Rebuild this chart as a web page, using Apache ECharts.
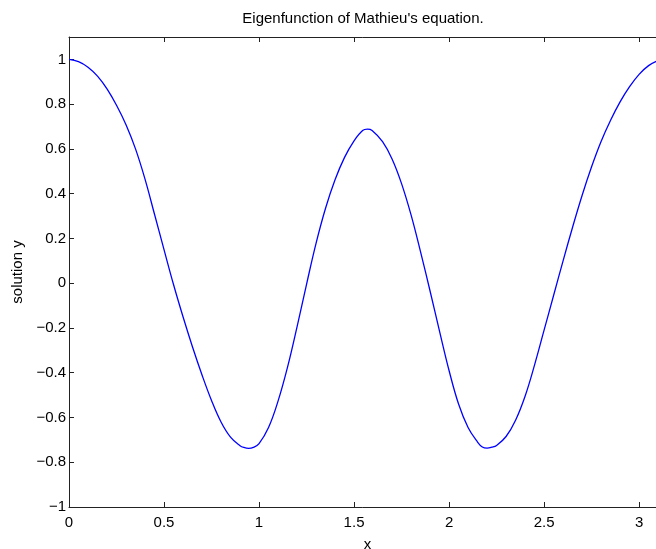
<!DOCTYPE html>
<html>
<head>
<meta charset="utf-8">
<script src="https://cdn.jsdelivr.net/npm/echarts@6/dist/echarts.min.js"></script>
<style>
  html, body { margin: 0; padding: 0; background: #ffffff; }
  #chart { width: 656px; height: 549px; }
</style>
</head>
<body>
<div id="chart"></div>
<script>
// ---- data ----
const titleText = "Eigenfunction of Mathieu's equation.";
const xName = "x";
const yName = "solution y";

const xValues = [
  0.00, 0.05, 0.10, 0.15, 0.20, 0.25, 0.30, 0.35, 0.40, 0.45,
  0.50, 0.55, 0.60, 0.65, 0.70, 0.75, 0.80, 0.85, 0.90, 0.92,
  0.945, 0.97, 1.00, 1.05, 1.10, 1.15, 1.20, 1.25, 1.30, 1.35,
  1.40, 1.45, 1.50, 1.545, 1.5708, 1.595, 1.65, 1.70, 1.75, 1.80,
  1.85, 1.90, 1.95, 2.00, 2.05, 2.10, 2.15, 2.175, 2.20, 2.225,
  2.25, 2.30, 2.35, 2.40, 2.45, 2.50, 2.55, 2.60, 2.65, 2.70,
  2.75, 2.80, 2.85, 2.90, 2.95, 3.00, 3.05, 3.10, 3.1416
];
const yValues = [
  1.000, 0.990, 0.965, 0.925, 0.868, 0.795, 0.708, 0.600, 0.465, 0.308,
  0.150, -0.006, -0.150, -0.285, -0.410, -0.524, -0.620, -0.688, -0.726, -0.734,
  -0.738, -0.734, -0.717, -0.645, -0.527, -0.375, -0.195, -0.005, 0.178, 0.335,
  0.462, 0.562, 0.636, 0.682, 0.688, 0.682, 0.632, 0.555, 0.445, 0.305,
  0.140, -0.035, -0.215, -0.390, -0.540, -0.645, -0.710, -0.732, -0.737, -0.733,
  -0.725, -0.685, -0.612, -0.505, -0.365, -0.210, -0.055, 0.100, 0.250, 0.392,
  0.520, 0.633, 0.728, 0.810, 0.878, 0.933, 0.972, 0.994, 1.000
];

const xTicks = [0, 0.5, 1, 1.5, 2, 2.5, 3];
const xTickLabels = ["0", "0.5", "1", "1.5", "2", "2.5", "3"];
const yTicks = [-1, -0.8, -0.6, -0.4, -0.2, 0, 0.2, 0.4, 0.6, 0.8, 1];
const yTickLabels = ["\u22121", "\u22120.8", "\u22120.6", "\u22120.4", "\u22120.2", "0", "0.2", "0.4", "0.6", "0.8", "1"];

const xMin = 0, xMax = 3.1416;
const yMin = -1, yMax = 1.1;

// ---- chart ----
const FONT = "'Liberation Sans', Arial, Helvetica, sans-serif";
const FS = 15;
const AXIS_COLOR = "#222222";
const chart = echarts.init(document.getElementById('chart'), null, { renderer: 'canvas' });

function labelFor(ticks, labels) {
  return function (v) {
    for (let i = 0; i < ticks.length; i++) {
      if (Math.abs(ticks[i] - v) < 1e-9) return labels[i];
    }
    return '';
  };
}

const seriesData = xValues.map((x, i) => [x, yValues[i]]);

const baseAxisLine = { show: true, onZero: false, lineStyle: { color: AXIS_COLOR, width: 1 } };
const baseTick = { show: true, inside: true, length: 5, lineStyle: { color: AXIS_COLOR, width: 1 } };

chart.setOption({
  animation: false,
  backgroundColor: '#ffffff',
  graphic: [{
    type: 'text',
    x: 363, y: 19,
    style: {
      text: titleText,
      font: FS + "px " + FONT,
      fill: '#000000',
      textAlign: 'center',
      textVerticalAlign: 'middle'
    }
  }],
  grid: { left: 69, top: 37, width: 597, height: 470, containLabel: false, outerBoundsMode: 'none' },
  xAxis: [{
    type: 'value', position: 'bottom', min: xMin, max: xMax,
    name: xName, nameLocation: 'middle', nameGap: 30,
    nameTextStyle: { color: '#000', fontSize: FS, fontFamily: FONT },
    axisLine: baseAxisLine,
    axisTick: Object.assign({}, baseTick, { customValues: xTicks }),
    axisLabel: { show: true, customValues: xTicks, formatter: labelFor(xTicks, xTickLabels),
                 color: '#000', fontSize: FS, fontFamily: FONT, margin: 8 },
    splitLine: { show: false }
  }, {
    type: 'value', position: 'top', min: xMin, max: xMax,
    axisLine: baseAxisLine,
    axisTick: Object.assign({}, baseTick, { customValues: xTicks }),
    axisLabel: { show: false },
    splitLine: { show: false }
  }],
  yAxis: [{
    type: 'value', position: 'left', min: yMin, max: yMax,
    name: yName, nameLocation: 'middle', nameGap: 40, nameRotate: 90,
    nameTextStyle: { color: '#000', fontSize: FS, fontFamily: FONT },
    axisLine: baseAxisLine,
    axisTick: Object.assign({}, baseTick, { customValues: yTicks }),
    axisLabel: { show: true, customValues: yTicks, formatter: labelFor(yTicks, yTickLabels),
                 color: '#000', fontSize: FS, fontFamily: FONT, margin: 3 },
    splitLine: { show: false }
  }, {
    type: 'value', position: 'right', min: yMin, max: yMax,
    axisLine: baseAxisLine,
    axisTick: Object.assign({}, baseTick, { customValues: yTicks }),
    axisLabel: { show: false },
    splitLine: { show: false }
  }],
  series: [{
    type: 'line',
    xAxisIndex: 0, yAxisIndex: 0,
    data: seriesData,
    showSymbol: false,
    smooth: 0.4,
    lineStyle: { color: '#0000ff', width: 1.3 },
    itemStyle: { color: '#0000ff' }
  }]
});
</script>
</body>
</html>
